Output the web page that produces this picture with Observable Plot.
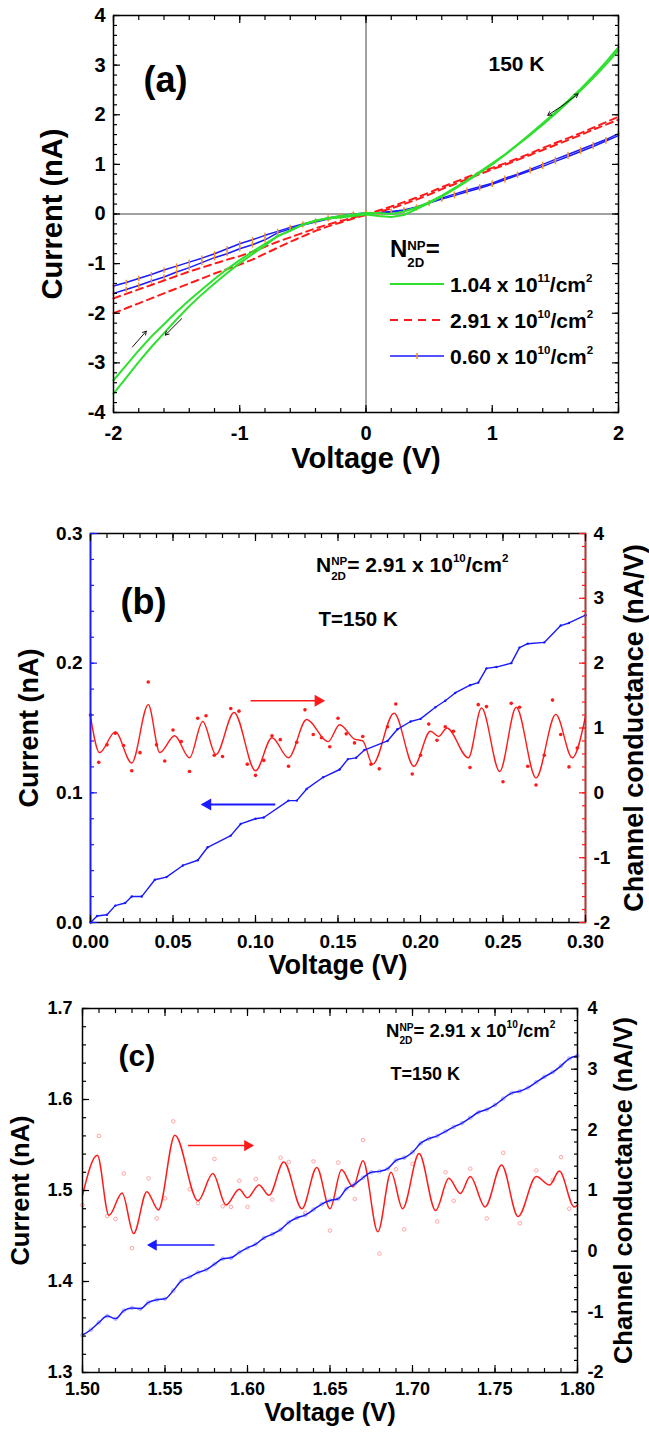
<!DOCTYPE html>
<html><head><meta charset="utf-8">
<script src="https://cdn.jsdelivr.net/npm/d3@7"></script>
<script src="https://cdn.jsdelivr.net/npm/@observablehq/plot@0.6"></script>
<style>
body{margin:0;background:#fff;}
#wrap{position:relative;width:649px;height:1438px;background:#fff;}
#wrap svg{position:absolute;left:0;}
</style></head><body><div id="wrap"></div>
<script>
// ===== Panel (a): I-V loops at 150 K =====
const voltA = [-2,-1.9,-1.8,-1.7,-1.6,-1.5,-1.4,-1.3,-1.2,-1.1,-1,-0.9,-0.8,-0.7,-0.6,-0.5,-0.4,-0.3,-0.2,-0.1,0,0.1,0.2,0.3,0.4,0.5,0.6,0.7,0.8,0.9,1,1.1,1.2,1.3,1.4,1.5,1.6,1.7,1.8,1.9,2];
const greenUp = [-3.35,-3.05,-2.75,-2.47,-2.22,-1.97,-1.74,-1.52,-1.31,-1.11,-0.93,-0.76,-0.6,-0.45,-0.33,-0.22,-0.14,-0.08,-0.04,-0.01,0.02,0.02,0.0,0.05,0.13,0.24,0.37,0.52,0.68,0.85,1.02,1.2,1.4,1.61,1.83,2.05,2.28,2.52,2.78,3.06,3.36];
const greenDn = [-3.62,-3.3,-2.98,-2.68,-2.4,-2.12,-1.86,-1.62,-1.4,-1.19,-0.99,-0.81,-0.64,-0.44,-0.34,-0.21,-0.13,-0.09,-0.07,-0.04,-0.01,-0.04,-0.06,-0.02,0.1,0.22,0.35,0.5,0.66,0.83,1.0,1.19,1.39,1.59,1.8,2.02,2.25,2.49,2.74,3.01,3.3];
const redUp = [-1.7,-1.61,-1.52,-1.43,-1.34,-1.25,-1.16,-1.08,-1.0,-0.92,-0.85,-0.76,-0.66,-0.56,-0.47,-0.38,-0.29,-0.21,-0.14,-0.07,0.0,0.07,0.15,0.24,0.33,0.43,0.54,0.64,0.74,0.84,0.93,1.02,1.12,1.22,1.33,1.43,1.53,1.63,1.74,1.85,1.96];
const redDn = [-2.0,-1.9,-1.8,-1.7,-1.6,-1.5,-1.4,-1.3,-1.2,-1.11,-1.02,-0.92,-0.8,-0.68,-0.56,-0.45,-0.34,-0.25,-0.17,-0.09,-0.02,0.04,0.11,0.2,0.29,0.39,0.5,0.6,0.7,0.8,0.9,0.99,1.09,1.19,1.29,1.39,1.49,1.59,1.7,1.8,1.9];
const blueUp = [-1.45,-1.38,-1.3,-1.22,-1.13,-1.05,-0.97,-0.89,-0.8,-0.7,-0.6,-0.52,-0.43,-0.35,-0.27,-0.2,-0.14,-0.08,-0.04,0.0,0.02,0.03,0.05,0.08,0.14,0.23,0.32,0.4,0.48,0.55,0.62,0.72,0.8,0.9,1.0,1.1,1.2,1.3,1.4,1.5,1.62];
const blueDn = [-1.6,-1.52,-1.44,-1.35,-1.27,-1.17,-1.08,-0.98,-0.88,-0.8,-0.7,-0.62,-0.52,-0.38,-0.3,-0.22,-0.16,-0.1,-0.05,-0.01,0.01,0.02,0.04,0.07,0.12,0.22,0.3,0.37,0.45,0.52,0.6,0.69,0.78,0.87,0.96,1.06,1.16,1.26,1.36,1.47,1.58];
const sweepArrowsA = [
  {x1:1.56,y1:2.19,x2:1.44,y2:1.99},{x1:1.56,y1:2.19,x2:1.68,y2:2.42},
  {x1:-1.85,y1:-2.68,x2:-1.74,y2:-2.36},{x1:-1.46,y1:-2.11,x2:-1.59,y2:-2.44}];
const legendA = ["1.04 x 10|11|/cm|2", "2.91 x 10|10|/cm|2", "0.60 x 10|10|/cm|2"];
const aXTicks = [-2,-1,0,1,2];
const aYTicks = [-4,-3,-2,-1,0,1,2,3,4];

// ===== Panel (b): 0 - 0.30 V =====
const bVolt = [0,0.004,0.01,0.015,0.021,0.025,0.031,0.039,0.046,0.056,0.065,0.071,0.085,0.091,0.1,0.105,0.12,0.125,0.131,0.141,0.151,0.156,0.161,0.166,0.18,0.186,0.194,0.2,0.209,0.215,0.221,0.23,0.235,0.24,0.246,0.255,0.26,0.265,0.275,0.285,0.29,0.3];
const bCurrent = [0,0.005,0.006,0.013,0.015,0.02,0.02,0.033,0.035,0.044,0.048,0.058,0.067,0.076,0.08,0.081,0.094,0.094,0.103,0.112,0.118,0.126,0.127,0.133,0.14,0.149,0.155,0.157,0.166,0.171,0.177,0.183,0.185,0.196,0.197,0.2,0.212,0.215,0.216,0.229,0.231,0.237];
const bFitVolt = [0,0.0055,0.015,0.025,0.035,0.042,0.051,0.06,0.068,0.076,0.087,0.1,0.11,0.12,0.131,0.144,0.151,0.16,0.165,0.171,0.184,0.196,0.206,0.211,0.216,0.229,0.237,0.248,0.258,0.27,0.282,0.292,0.3];
const bFitG = [1.18,0.62,0.94,0.46,1.36,0.62,0.88,0.54,1.1,0.59,1.24,0.34,0.85,0.54,1.13,0.79,1.05,0.83,0.8,0.44,1.23,0.41,0.95,0.87,1.0,0.54,1.31,0.33,1.32,0.23,1.21,0.54,1.18];
const bDotVolt = [0,0.005,0.01,0.015,0.02,0.025,0.03,0.035,0.04,0.045,0.05,0.055,0.06,0.065,0.07,0.075,0.08,0.085,0.09,0.095,0.1,0.105,0.11,0.115,0.12,0.125,0.13,0.135,0.14,0.145,0.15,0.155,0.16,0.165,0.17,0.175,0.18,0.185,0.195,0.2,0.205,0.21,0.215,0.22,0.23,0.235,0.24,0.25,0.255,0.26,0.265,0.27,0.275,0.28,0.285,0.29,0.295];
const bDotG = [1.2,0.47,0.74,0.92,0.73,0.34,0.62,1.71,0.74,0.49,0.97,0.79,0.33,1.15,1.19,0.58,0.56,1.3,1.26,0.44,0.27,0.5,0.88,0.82,0.41,0.78,1.28,0.9,0.85,0.71,1.15,0.91,0.77,0.87,0.44,0.37,1.02,1.37,0.29,0.58,1.06,0.81,1.02,0.95,0.39,1.36,1.33,0.17,1.38,1.32,0.41,0.12,0.58,1.43,0.9,0.4,0.69];
const bArrowRed = {x1:0.097, x2:0.141, g:1.42};
const bArrowBlue = {x1:0.112, x2:0.068, i:0.091};
const bXTicks = [0,0.05,0.1,0.15,0.2,0.25,0.3];
const bYTicks = [0,0.1,0.2,0.3];
const bGTicks = [-2,-1,0,1,2,3,4];

// ===== Panel (c): 1.50 - 1.80 V =====
const cVolt = [1.5,1.505,1.51,1.515,1.52,1.525,1.53,1.535,1.54,1.545,1.55,1.555,1.56,1.565,1.57,1.575,1.58,1.585,1.59,1.595,1.6,1.605,1.61,1.615,1.62,1.625,1.63,1.635,1.64,1.645,1.65,1.655,1.66,1.665,1.67,1.675,1.68,1.685,1.69,1.695,1.7,1.705,1.71,1.715,1.72,1.725,1.73,1.735,1.74,1.745,1.75,1.755,1.76,1.765,1.77,1.775,1.78,1.785,1.79,1.795,1.8];
const cCurrent = [1.341,1.347,1.355,1.362,1.359,1.368,1.371,1.370,1.377,1.380,1.381,1.39,1.401,1.405,1.41,1.413,1.419,1.425,1.426,1.432,1.437,1.441,1.448,1.452,1.457,1.465,1.47,1.473,1.479,1.485,1.489,1.491,1.502,1.507,1.514,1.52,1.521,1.524,1.533,1.536,1.542,1.552,1.557,1.56,1.565,1.57,1.574,1.58,1.586,1.589,1.594,1.601,1.607,1.609,1.613,1.619,1.625,1.63,1.637,1.645,1.648];
const cFitVolt = [1.5,1.509,1.516,1.524,1.531,1.539,1.546,1.556,1.57,1.579,1.587,1.595,1.6,1.607,1.613,1.622,1.633,1.642,1.65,1.657,1.664,1.67,1.679,1.687,1.694,1.704,1.714,1.722,1.729,1.735,1.744,1.754,1.764,1.775,1.783,1.789,1.798,1.8];
const cFitG = [0.92,1.58,0.59,0.96,0.29,0.98,0.68,1.91,0.83,1.28,0.76,1.02,0.88,1.09,0.92,1.47,0.7,1.38,0.7,1.34,1.06,1.49,0.32,1.3,0.7,1.61,0.67,1.2,0.95,1.23,0.73,1.42,0.57,1.23,1.09,1.32,0.73,0.76];
const cDotVolt = [1.5,1.51,1.515,1.52,1.525,1.53,1.54,1.545,1.55,1.555,1.565,1.57,1.58,1.585,1.59,1.595,1.6,1.605,1.615,1.62,1.625,1.635,1.64,1.65,1.655,1.665,1.67,1.68,1.69,1.695,1.7,1.715,1.72,1.725,1.735,1.745,1.755,1.765,1.775,1.785,1.79,1.795];
const cDotG = [0.76,1.9,0.58,0.53,1.28,0.05,1.2,0.54,0.87,2.14,1.02,0.79,1.52,0.74,0.73,1.16,0.73,1.19,0.85,1.54,1.47,0.63,1.48,0.34,1.46,0.86,1.83,-0.04,1.35,0.36,1.44,0.49,1.3,0.83,1.36,0.54,1.62,0.46,1.33,1.17,1.55,0.7];
const cArrowRed = {x1:1.564, x2:1.603, g:1.74};
const cArrowBlue = {x1:1.58, x2:1.54, i:1.44};
const cXTicks = [1.5,1.55,1.6,1.65,1.7,1.75,1.8];
const cYTicks = [1.3,1.4,1.5,1.6,1.7];
const cGTicks = [-2,-1,0,1,2,3,4];

// ===== styling =====
const FONT = "'Liberation Sans', Arial, Helvetica, sans-serif";
const GREEN = "#2fe02f", RED = "#ff1a1a", BLUE = "#1a1aff", ORANGE = "#ff8c1a";
const wrap = document.getElementById("wrap");
const tidy = (xs, ys, extra = {}) => xs.map((x, i) => ({x, y: ys[i], ...extra}));
const fix = v => +v.toFixed(4);
const vtick = {draw(ctx, size) { const h = Math.sqrt(size) / 2; ctx.moveTo(0, -h); ctx.lineTo(0, h); }};

function tickMarks(dim, anchor, major, minor, stroke = "black") {
  const A = dim === "x" ? Plot.axisX : Plot.axisY;
  return [
    A({anchor, ticks: minor, tickSize: -4, tickFormat: () => "", stroke, strokeWidth: 1.2, label: null}),
    A({anchor, ticks: major, tickSize: -7, tickFormat: () => "", stroke, strokeWidth: 1.2, label: null})
  ];
}
function tickLabels(dim, anchor, major, fmt, size, pad) {
  const A = dim === "x" ? Plot.axisX : Plot.axisY;
  return A({anchor, ticks: major, tickSize: 0, tickPadding: pad, tickFormat: fmt, fontSize: size, label: null, fill: "black"});
}
function richText(svg, x, y, size, parts) {
  const t = d3.select(svg).append("text").attr("x", x).attr("y", y)
    .attr("font-size", size).attr("font-weight", "bold").attr("font-family", FONT)
    .attr("text-anchor", "start").attr("fill", "black").style("white-space", "pre");
  const small = size * 0.55;
  let shift = 0;
  for (const p of parts) {
    if (typeof p === "string") { t.append("tspan").attr("dy", -shift).text(p); shift = 0; }
    else if (p.sub !== undefined) {
      const dsub = size * 0.4, dsup = -size * 0.31;
      const s1 = t.append("tspan").attr("font-size", small).attr("dy", dsub - shift).text(p.sub);
      const w = s1.node().getComputedTextLength();
      t.append("tspan").attr("font-size", small).attr("dx", -w).attr("dy", dsup - dsub).text(p.sup);
      shift = dsup;
    } else {
      const d = -size * 0.5;
      t.append("tspan").attr("font-size", small).attr("dy", d - shift).text(p.sup); shift = d;
    }
  }
}
const splitSup = s => { const [a, b, c, d] = s.split("|"); return [a, {sup: b}, c, {sup: d}]; };
const svgStyle = {fontFamily: FONT, fontWeight: "bold", color: "black", background: "transparent", overflow: "visible"};
const bold = {fontWeight: "bold", textAnchor: "middle"};

// ---------- Panel (a) ----------
{
  const M = {l: 113, r: 31, t: 15, b: 83}, H = 495;
  const gRows = [...tidy(voltA, greenUp, {b: "up"}), ...tidy(voltA, greenDn, {b: "dn"})];
  const rRows = [...tidy(voltA, redUp, {b: "up"}), ...tidy(voltA, redDn, {b: "dn"})];
  const uRows = [...tidy(voltA, blueUp, {b: "up"}), ...tidy(voltA, blueDn, {b: "dn"})];
  const minX = d3.range(-2, 2.001, 0.2).map(fix), minY = d3.range(-4, 4.001, 0.2).map(fix);
  const svg = Plot.plot({
    width: 649, height: H, marginLeft: M.l, marginRight: M.r, marginTop: M.t, marginBottom: M.b,
    style: svgStyle,
    x: {domain: [-2, 2]}, y: {domain: [-4, 4]},
    marks: [
      Plot.ruleX([0], {stroke: "#444", strokeWidth: 1}),
      Plot.ruleY([0], {stroke: "#444", strokeWidth: 1}),
      Plot.line(uRows, {x: "x", y: "y", z: "b", stroke: BLUE, strokeWidth: 1.5}),
      Plot.dot(uRows, {x: "x", y: "y", symbol: vtick, r: 3, stroke: ORANGE, strokeWidth: 1.4, fill: "none"}),
      Plot.line(rRows, {x: "x", y: "y", z: "b", stroke: RED, strokeWidth: 2, strokeDasharray: "7,5"}),
      Plot.line(gRows, {x: "x", y: "y", z: "b", stroke: GREEN, strokeWidth: 2}),
      Plot.arrow(sweepArrowsA, {x1: "x1", y1: "y1", x2: "x2", y2: "y2", stroke: "#111", strokeWidth: 1, headLength: 6}),
      Plot.frame({stroke: "black", strokeWidth: 1.5}),
      ...tickMarks("x", "bottom", aXTicks, minX), ...tickMarks("x", "top", aXTicks, minX),
      ...tickMarks("y", "left", aYTicks, minY), ...tickMarks("y", "right", aYTicks, minY),
      tickLabels("x", "bottom", aXTicks, d => String(d), 20, 13),
      tickLabels("y", "left", aYTicks, d => String(d), 20, 8),
      Plot.text(["Voltage (V)"], {frameAnchor: "bottom", dy: 55, fontSize: 29, ...bold}),
      Plot.text(["Current (nA)"], {frameAnchor: "left", dx: -61, rotate: -90, fontSize: 29, ...bold}),
      Plot.text(["(a)"], {frameAnchor: "top-left", dx: 30, dy: 51, textAnchor: "start", fontSize: 36, fontWeight: "bold"}),
      Plot.text(["150 K"], {frameAnchor: "top-left", dx: 375, dy: 41, textAnchor: "start", fontSize: 21, fontWeight: "bold"})
    ]
  });
  svg.style.top = "0px";
  wrap.appendChild(svg);
  richText(svg, 390, 257, 24, ["N", {sub: "2D", sup: "NP"}, "="]);
  const rowsY = [284, 320, 356];
  const sample = d3.select(svg).append("g");
  sample.append("line").attr("x1", 390).attr("x2", 444).attr("y1", rowsY[0]).attr("y2", rowsY[0]).attr("stroke", GREEN).attr("stroke-width", 2.2);
  sample.append("line").attr("x1", 390).attr("x2", 444).attr("y1", rowsY[1]).attr("y2", rowsY[1]).attr("stroke", RED).attr("stroke-width", 2.2).attr("stroke-dasharray", "8,6");
  sample.append("line").attr("x1", 390).attr("x2", 444).attr("y1", rowsY[2]).attr("y2", rowsY[2]).attr("stroke", BLUE).attr("stroke-width", 1.6);
  sample.append("line").attr("x1", 417).attr("x2", 417).attr("y1", rowsY[2] - 3).attr("y2", rowsY[2] + 3).attr("stroke", ORANGE).attr("stroke-width", 1.5);
  legendA.forEach((s, i) => richText(svg, 450, rowsY[i] + 8, 21, splitSup(s)));
}

// ---------- Panel (b) ----------
{
  const M = {l: 90, r: 64, t: 38, b: 63}, H = 490, top = 495;
  const toL = v => (v + 2) / 6 * 0.3, fromL = y => y / 0.3 * 6 - 2;
  const blueRows = tidy(bVolt, bCurrent);
  const fitRows = tidy(bFitVolt, bFitG.map(toL));
  const dotRows = tidy(bDotVolt, bDotG.map(toL));
  const minX = d3.range(0, 0.3001, 0.01).map(fix), minY = d3.range(0, 0.3001, 0.02).map(fix);
  const minG = d3.range(-2, 4.001, 0.2).map(v => fix(toL(v)));
  const svg = Plot.plot({
    width: 649, height: H, marginLeft: M.l, marginRight: M.r, marginTop: M.t, marginBottom: M.b,
    style: svgStyle,
    x: {domain: [0, 0.3]}, y: {domain: [0, 0.3]},
    marks: [
      Plot.line(fitRows, {x: "x", y: "y", stroke: RED, strokeWidth: 1.4, curve: "monotone-x"}),
      Plot.dot(dotRows, {x: "x", y: "y", r: 1.8, fill: RED}),
      Plot.line(blueRows, {x: "x", y: "y", stroke: BLUE, strokeWidth: 1.4}),
      Plot.dot(blueRows, {x: "x", y: "y", r: 1.2, fill: BLUE}),
      Plot.link([bArrowRed], {x1: "x1", x2: d => d.x2, y1: d => toL(d.g), y2: d => toL(d.g), stroke: RED, strokeWidth: 1.5}),
      Plot.dot([bArrowRed], {x: "x2", y: d => toL(d.g), symbol: "triangle", r: 4.5, rotate: 90, dx: -5, fill: RED}),
      Plot.link([bArrowBlue], {x1: "x1", x2: "x2", y1: "i", y2: "i", stroke: BLUE, strokeWidth: 1.8}),
      Plot.dot([bArrowBlue], {x: "x2", y: "i", symbol: "triangle", r: 4.5, rotate: -90, dx: 5, fill: BLUE}),
      Plot.frame({stroke: "black", strokeWidth: 1.5}),
      Plot.ruleX([0], {stroke: BLUE, strokeWidth: 1.5}),
      Plot.ruleX([0.3], {stroke: RED, strokeWidth: 1.5}),
      ...tickMarks("x", "bottom", bXTicks, minX), ...tickMarks("x", "top", bXTicks, minX),
      ...tickMarks("y", "left", bYTicks, minY, BLUE),
      ...tickMarks("y", "right", bGTicks.map(toL).map(fix), minG, RED),
      tickLabels("x", "bottom", bXTicks, d3.format(".2f"), 19, 12),
      tickLabels("y", "left", bYTicks, d3.format(".1f"), 19, 8),
      tickLabels("y", "right", bGTicks.map(toL).map(fix), d => String(Math.round(fromL(d))), 19, 8),
      Plot.text(["Voltage (V)"], {frameAnchor: "bottom", dy: 51, fontSize: 27, ...bold}),
      Plot.text(["Current (nA)"], {frameAnchor: "left", dx: -61, rotate: -90, fontSize: 27, ...bold}),
      Plot.text(["Channel conductance (nA/V)"], {frameAnchor: "right", dx: 49, rotate: -90, fontSize: 27, ...bold}),
      Plot.text(["(b)"], {frameAnchor: "top-left", dx: 30, dy: 55, textAnchor: "start", fontSize: 36, fontWeight: "bold"}),
      Plot.text(["T=150 K"], {frameAnchor: "top-left", dx: 228, dy: 78, textAnchor: "start", fontSize: 20.5, fontWeight: "bold"})
    ]
  });
  svg.style.top = top + "px";
  wrap.appendChild(svg);
  richText(svg, 316, 77, 21, ["N", {sub: "2D", sup: "NP"}, "= 2.91 x 10", {sup: "10"}, "/cm", {sup: "2"}]);
}

// ---------- Panel (c) ----------
{
  const M = {l: 82, r: 72, t: 23, b: 66}, H = 453, top = 985;
  const toL = v => 1.3 + (v + 2) / 6 * 0.4, fromL = y => (y - 1.3) / 0.4 * 6 - 2;
  const blueRows = tidy(cVolt, cCurrent);
  const fitRows = tidy(cFitVolt, cFitG.map(toL));
  const dotRows = tidy(cDotVolt, cDotG.map(toL));
  const minX = d3.range(1.5, 1.8001, 0.01).map(fix), minY = d3.range(1.3, 1.7001, 0.02).map(fix);
  const minG = d3.range(-2, 4.001, 0.2).map(v => fix(toL(v)));
  const svg = Plot.plot({
    width: 649, height: H, marginLeft: M.l, marginRight: M.r, marginTop: M.t, marginBottom: M.b,
    style: svgStyle,
    x: {domain: [1.5, 1.8]}, y: {domain: [1.3, 1.7]},
    marks: [
      Plot.dot(dotRows, {x: "x", y: "y", r: 1.8, stroke: "#ff8f8f", strokeWidth: 0.8, fill: "none"}),
      Plot.line(fitRows, {x: "x", y: "y", stroke: RED, strokeWidth: 1.5, curve: "monotone-x"}),
      Plot.dot(blueRows, {x: "x", y: "y", r: 1.8, stroke: "#a0a0ff", strokeWidth: 0.8, fill: "none"}),
      Plot.line(blueRows, {x: "x", y: "y", stroke: BLUE, strokeWidth: 1.5, curve: "monotone-x"}),
      Plot.link([cArrowRed], {x1: "x1", x2: "x2", y1: d => toL(d.g), y2: d => toL(d.g), stroke: RED, strokeWidth: 1.5}),
      Plot.dot([cArrowRed], {x: "x2", y: d => toL(d.g), symbol: "triangle", r: 4.2, rotate: 90, dx: -5, fill: RED}),
      Plot.link([cArrowBlue], {x1: "x1", x2: "x2", y1: "i", y2: "i", stroke: BLUE, strokeWidth: 1.5}),
      Plot.dot([cArrowBlue], {x: "x2", y: "i", symbol: "triangle", r: 4.2, rotate: -90, dx: 5, fill: BLUE}),
      Plot.frame({stroke: "black", strokeWidth: 1.5}),
      ...tickMarks("x", "bottom", cXTicks, minX), ...tickMarks("x", "top", cXTicks, minX),
      ...tickMarks("y", "left", cYTicks, minY),
      ...tickMarks("y", "right", cGTicks.map(toL).map(fix), minG),
      tickLabels("x", "bottom", cXTicks, d3.format(".2f"), 18, 10),
      tickLabels("y", "left", cYTicks, d3.format(".1f"), 18, 10),
      tickLabels("y", "right", cGTicks.map(toL).map(fix), d => String(Math.round(fromL(d))), 18, 10),
      Plot.text(["Voltage (V)"], {frameAnchor: "bottom", dy: 48, fontSize: 25.5, ...bold}),
      Plot.text(["Current (nA)"], {frameAnchor: "left", dx: -62, rotate: -90, fontSize: 25.5, ...bold}),
      Plot.text(["Channel conductance (nA/V)"], {frameAnchor: "right", dx: 46, rotate: -90, fontSize: 25.5, ...bold}),
      Plot.text(["(c)"], {frameAnchor: "top-left", dx: 36, dy: 36, textAnchor: "start", fontSize: 30, fontWeight: "bold"}),
      Plot.text(["T=150 K"], {frameAnchor: "top-left", dx: 308, dy: 59, textAnchor: "start", fontSize: 18, fontWeight: "bold"})
    ]
  });
  svg.style.top = top + "px";
  wrap.appendChild(svg);
  richText(svg, 386, 52, 18.5, ["N", {sub: "2D", sup: "NP"}, "= 2.91 x 10", {sup: "10"}, "/cm", {sup: "2"}]);
}
</script></body></html>
